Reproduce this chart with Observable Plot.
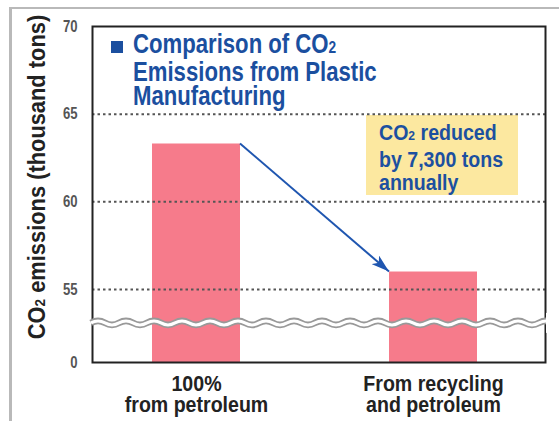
<!DOCTYPE html>
<html>
<head>
<meta charset="utf-8">
<script src="https://cdn.jsdelivr.net/npm/d3@7"></script>
<script src="https://cdn.jsdelivr.net/npm/@observablehq/plot@0.6"></script>
<style>
  html, body { margin: 0; padding: 0; background: #fff; }
  #wrap { position: relative; width: 559px; height: 421px; overflow: hidden; }
  #outer { position: absolute; left: 9px; top: 7px; right: -10px; bottom: -10px;
           border-left: 3px solid #b9b9b9; border-top: 2px solid #b9b9b9; }
  .cond { font-family: "Liberation Sans", Arial, sans-serif; font-weight: bold; white-space: nowrap; }
  #title { position: absolute; left: 133px; top: 32px; color: #1b4f9f; font-size: 27px; line-height: 24px;
           transform: scaleX(0.82); transform-origin: 0 0; }
  #sq { position: absolute; left: 111px; top: 41px; width: 12px; height: 12px; background: #1b4f9f; }
  #note { position: absolute; left: 366px; top: 115px; width: 152px; height: 80px; background: #fce8a0; }
  #notetext { position: absolute; left: 379px; top: 121px; color: #1c50a0; font-size: 22px; line-height: 23.5px;
              transform: scaleX(0.89); transform-origin: 0 0; }
  #ylab { position: absolute; left: 39px; top: 177px; color: #222; font-size: 23px; line-height: 23px;
          transform: translate(-50%, -50%) rotate(-90deg) scaleX(0.95); }
  .sub { font-size: 0.62em; }
  svg { position: absolute; left: 0; top: 0; }
</style>
</head>
<body>
<div id="wrap">
  <div id="outer"></div>
  <div id="note"></div>
  <div id="chart"></div>
  <div id="sq"></div>
  <div id="title" class="cond">Comparison of CO<span class="sub">2</span><br>Emissions from Plastic<br>Manufacturing</div>
  <div id="notetext" class="cond">CO<span class="sub">2</span> reduced<br>by 7,300 tons<br>annually</div>
  <div id="ylab" class="cond">CO<span class="sub">2</span> emissions (thousand tons)</div>
</div>
<script>
// ---- data ----
const categories = ["100%\nfrom petroleum", "From recycling\nand petroleum"];
const emissions = [63.3, 56.0];            // thousand tons
const gridValues = [55, 60, 65];
const tickValues = [50.84, 55, 60, 65, 70];
const tickLabels = ["0", "55", "60", "65", "70"];
const axisMin = 50.84;                      // broken axis: bottom shown as 0
const axisMax = 70;
const breakValue = 53.07;                   // position of the axis-break squiggle

const data = categories.map((c, i) => ({category: c, value: emissions[i]}));

const plot = Plot.plot({
  width: 559,
  height: 421,
  marginLeft: 92,
  marginRight: 14,
  marginTop: 26,
  marginBottom: 59,
  style: {fontFamily: '"Liberation Sans", Arial, sans-serif', background: "transparent", overflow: "visible"},
  x: {domain: categories, paddingInner: 0.63, paddingOuter: 0.27, align: 0.47, axis: null},
  y: {domain: [axisMin, axisMax], axis: null},
  marks: [
    Plot.barY(data, {x: "category", y1: axisMin, y2: "value", fill: "#f67b8b"}),
    Plot.ruleY(gridValues, {stroke: "#555", strokeWidth: 2, strokeDasharray: "2.5,3"}),
    Plot.axisX({label: null, tickSize: 0, tickPadding: 14, fontSize: 22, fontWeight: "bold", lineHeight: 0.95, fill: "#222"}),
    Plot.axisY({label: null, ticks: tickValues, tickFormat: (d) => tickLabels[tickValues.indexOf(d)], tickSize: 0, tickPadding: 15,
                fontSize: 16, fontWeight: "bold", fill: "#555"}),
    Plot.frame({stroke: "#222", strokeWidth: 2})
  ]
});
document.getElementById("chart").appendChild(plot);

// condense the axis tick labels horizontally around their anchor points
function condense(selector, k) {
  d3.select(plot).selectAll(selector).each(function() {
    const t = d3.select(this);
    let x = parseFloat(t.attr("x")), y = parseFloat(t.attr("y"));
    if (!isFinite(x)) x = 0;
    if (!isFinite(y)) y = 0;
    const tr = t.attr("transform") || "";
    t.attr("transform", `${tr} translate(${x},${y}) scale(${k},1) translate(${-x},${-y})`);
  });
}
condense('g[aria-label="x-axis tick label"] text', 0.89);
condense('g[aria-label="y-axis tick label"] text', 0.82);

// axis-break squiggle and arrow drawn through the plot's own scales
const xs = plot.scale("x"), ys = plot.scale("y");
const svg = d3.select(plot);
const yb = ys.apply(breakValue);
const [xr0, xr1] = xs.range;
let d = `M${xr0 - 1},${yb} q7,-4 14,0`;
for (let x = xr0 + 13; x < xr1; x += 14) d += " t14,0";
svg.append("path").attr("d", d).attr("fill", "none").attr("stroke", "#999").attr("stroke-width", 6.5);
svg.append("path").attr("d", d).attr("fill", "none").attr("stroke", "#fff").attr("stroke-width", 3);
svg.append("rect").attr("x", xr1 + 1).attr("y", yb - 10).attr("width", 20).attr("height", 20).attr("fill", "#fff");

const defs = svg.append("defs");
defs.append("marker").attr("id", "ah").attr("viewBox", "0 0 16 10").attr("refX", 16).attr("refY", 5)
  .attr("markerWidth", 9).attr("markerHeight", 5.6).attr("markerUnits", "strokeWidth").attr("orient", "auto")
  .append("path").attr("d", "M0,0 L16,5 L0,10 L4,5 Z").attr("fill", "#1f56b0");
const x1 = xs.apply(categories[0]) + xs.bandwidth, y1 = ys.apply(emissions[0]);
const x2 = xs.apply(categories[1]), y2 = ys.apply(emissions[1]);
svg.append("line").attr("x1", x1).attr("y1", y1).attr("x2", x2).attr("y2", y2)
  .attr("stroke", "#1f56b0").attr("stroke-width", 2).attr("marker-end", "url(#ah)");
</script>
</body>
</html>
